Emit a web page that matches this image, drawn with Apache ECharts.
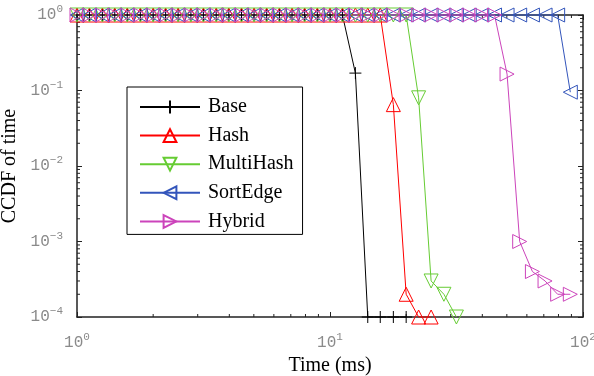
<!DOCTYPE html>
<html>
<head>
<meta charset="utf-8">
<script src="https://cdn.jsdelivr.net/npm/echarts@6/dist/echarts.min.js"></script>
<style>
    html, body { margin: 0; padding: 0; background: #fff; }
    #chart { width: 594px; height: 376px; }
</style>
</head>
<body>
<div id="chart"></div>
<script>
    // sample times (ms), shared by all series
    var times = [1, 1.12, 1.26, 1.41, 1.58, 1.78, 2.0, 2.24, 2.51, 2.82,
                 3.16, 3.55, 3.98, 4.47, 5.01, 5.62, 6.31, 7.08, 7.94, 8.91,
                 10.0, 11.2, 12.6, 14.1, 15.8, 17.8, 20.0, 22.4, 25.1, 28.2,
                 31.6, 35.5, 39.8, 44.7, 50.1, 56.2, 63.1, 70.8, 79.4, 89.1];

    // CCDF values per series (same index as times)
    var base = [1, 1, 1, 1, 1, 1, 1, 1, 1, 1, 1, 1, 1, 1, 1, 1, 1, 1, 1, 1,
                1, 1, 0.17, 1e-4, 1e-4, 1e-4, 1e-4];
    var hash = [1, 1, 1, 1, 1, 1, 1, 1, 1, 1, 1, 1, 1, 1, 1, 1, 1, 1, 1, 1,
                1, 1, 1, 1, 1, 0.065, 2e-4, 1e-4, 1e-4];
    var multiHash = [1, 1, 1, 1, 1, 1, 1, 1, 1, 1, 1, 1, 1, 1, 1, 1, 1, 1, 1, 1,
                     1, 1, 1, 1, 1, 1, 1, 0.08, 3e-4, 2e-4, 1e-4];
    var sortEdge = [1, 1, 1, 1, 1, 1, 1, 1, 1, 1, 1, 1, 1, 1, 1, 1, 1, 1, 1, 1,
                    1, 1, 1, 1, 1, 1, 1, 1, 1, 1, 1, 1, 1, 1, 1, 1, 1, 1, 1, 0.095];
    var hybrid = [1, 1, 1, 1, 1, 1, 1, 1, 1, 1, 1, 1, 1, 1, 1, 1, 1, 1, 1, 1,
                  1, 1, 1, 1, 1, 1, 1, 1, 1, 1, 1, 1, 1, 1, 0.165, 1e-3, 4e-4, 3e-4, 2e-4, 2e-4];

    var names = ['Base', 'Hash', 'MultiHash', 'SortEdge', 'Hybrid'];

    // minor tick positions of the log axes
    var minorX = [2, 3, 4, 5, 6, 7, 8, 9, 20, 30, 40, 50, 60, 70, 80, 90];
    var minorY = [2e-4, 3e-4, 4e-4, 5e-4, 6e-4, 7e-4, 8e-4, 9e-4,
                  2e-3, 3e-3, 4e-3, 5e-3, 6e-3, 7e-3, 8e-3, 9e-3,
                  2e-2, 3e-2, 4e-2, 5e-2, 6e-2, 7e-2, 8e-2, 9e-2,
                  0.2, 0.3, 0.4, 0.5, 0.6, 0.7, 0.8, 0.9];

    var serif = 'Liberation Serif';
    var axisColor = '#222';

    function powLabel(v){
        var e = Math.round(Math.log10(v));
        return '{b|10}{s|' + String(e).replace('-', '\u2212') + '}';
    }

    var labelRich = {
        b: { fontFamily: 'Liberation Mono', fontSize: 16, color: '#8a8a8a' },
        s: { fontFamily: 'Liberation Mono', fontSize: 11, color: '#8a8a8a', padding: [0, 0, 11, 0] }
    };

    function lineSeries(name, vals, color, symbol, rotate, size){
        return {
            name: name,
            type: 'line',
            data: vals.map(function(v, i){ return [times[i], v]; }),
            symbol: symbol,
            symbolRotate: rotate,
            symbolSize: size,
            showAllSymbol: true,
            clip: false,
            lineStyle: { color: color, width: 1 },
            itemStyle: { color: 'transparent', borderColor: color, borderWidth: 1 },
            emphasis: { disabled: true }
        };
    }

    function axisBase(pos, showLabel){
        return {
            type: 'log',
            logBase: 10,
            position: pos,
            axisLine: { show: true, lineStyle: { color: axisColor, width: 1.5 } },
            axisTick: { show: true, inside: true, length: 5, lineStyle: { color: axisColor } },
            axisLabel: { show: showLabel, formatter: powLabel, rich: labelRich },
            splitLine: { show: false }
        };
    }

    var xBottom = axisBase('bottom', true);
    xBottom.min = 1; xBottom.max = 100;
    xBottom.axisLabel.margin = 15;
    xBottom.name = 'Time (ms)';
    xBottom.nameLocation = 'middle';
    xBottom.nameGap = 37;
    xBottom.nameTextStyle = { fontFamily: serif, fontSize: 20, color: '#000' };
    var xTop = axisBase('top', false);
    xTop.min = 1; xTop.max = 100;

    var yLeft = axisBase('left', true);
    yLeft.min = 1e-4; yLeft.max = 1;
    yLeft.axisLabel.margin = 14;
    yLeft.name = 'CCDF of time';
    yLeft.nameLocation = 'middle';
    yLeft.nameGap = 46;
    yLeft.nameRotate = 90;
    yLeft.nameTextStyle = { fontFamily: serif, fontSize: 20, color: '#000' };
    var yRight = axisBase('right', false);
    yRight.min = 1e-4; yRight.max = 1;

    var myChart = echarts.init(document.getElementById('chart'));
    var option = {
        animation: false,
        backgroundColor: '#fff',
        grid: { left: 77, right: 11, top: 15, bottom: 59, outerBoundsMode: 'none' },
        legend: {
            data: names,
            orient: 'vertical',
            left: 127,
            top: 87,
            itemWidth: 60,
            itemHeight: 16,
            itemGap: 8.6,
            padding: [10, 9, 3, 12],
            borderColor: '#000',
            borderWidth: 1,
            backgroundColor: '#fff',
            textStyle: { fontFamily: serif, fontSize: 20, color: '#000', padding: [0, 0, 0, 3] }
        },
        xAxis: [xBottom, xTop],
        yAxis: [yLeft, yRight],
        series: [
            {
                // minor ticks of the log axes, on all four sides
                type: 'custom',
                silent: true,
                clip: false,
                data: [[1, 1]],
                renderItem: function(params, api){
                    var kids = [];
                    var st = { stroke: axisColor, lineWidth: 1 };
                    minorX.forEach(function(v){
                        var b = api.coord([v, 1e-4]);
                        var t = api.coord([v, 1]);
                        kids.push({ type: 'line', shape: { x1: b[0], y1: b[1], x2: b[0], y2: b[1] - 3 }, style: st });
                        kids.push({ type: 'line', shape: { x1: t[0], y1: t[1], x2: t[0], y2: t[1] + 3 }, style: st });
                    });
                    minorY.forEach(function(v){
                        var l = api.coord([1, v]);
                        var r = api.coord([100, v]);
                        kids.push({ type: 'line', shape: { x1: l[0], y1: l[1], x2: l[0] + 3, y2: l[1] }, style: st });
                        kids.push({ type: 'line', shape: { x1: r[0], y1: r[1], x2: r[0] - 3, y2: r[1] }, style: st });
                    });
                    return { type: 'group', children: kids };
                }
            },
            lineSeries('Base', base, '#000000', 'path://M0,6H12M6,0V12', 0, 12),
            lineSeries('Hash', hash, '#ff0000', 'triangle', 0, 14),
            lineSeries('MultiHash', multiHash, '#66cc33', 'triangle', 180, 14),
            lineSeries('SortEdge', sortEdge, '#3355bb', 'triangle', 90, 14),
            lineSeries('Hybrid', hybrid, '#cc44bb', 'triangle', -90, 14)
        ]
    };
    myChart.setOption(option);
</script>
</body>
</html>
